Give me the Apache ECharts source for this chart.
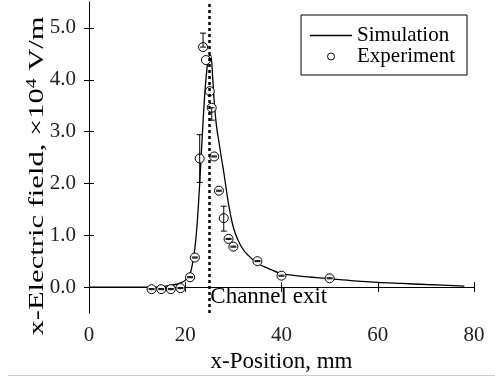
<!DOCTYPE html>
<html>
<head>
<meta charset="utf-8">
<script src="https://cdn.jsdelivr.net/npm/echarts@6/dist/echarts.min.js"></script>
<style>html,body{margin:0;padding:0;background:#fff}#c{width:495px;height:380px}</style>
</head>
<body>
<div id="c"></div>
<script>
// Simulation curve
var simX = [0, 5, 10, 14, 16, 18, 19, 20, 21, 21.5, 22, 22.5, 23, 23.5, 24, 24.5, 25, 25.3, 25.7, 26, 26.5, 27, 27.5, 28, 29, 30, 31, 32, 33, 35, 38, 40, 45, 50, 55, 60, 65, 70, 78];
var simY = [0.0, 0.0, 0.0, 0.0, 0.02, 0.05, 0.08, 0.13, 0.26, 0.45, 0.75, 1.25, 2.0, 2.85, 3.65, 4.2, 4.47, 4.47, 4.05, 3.6, 3.1, 2.8, 2.5, 2.22, 1.6, 1.15, 0.9, 0.73, 0.62, 0.46, 0.33, 0.26, 0.2, 0.16, 0.12, 0.09, 0.07, 0.05, 0.02];
// Experiment points
var expX = [13, 15, 17, 19, 21, 22, 23, 23.7, 24.3, 25.1, 25.5, 26, 27, 28, 29, 30, 35, 40, 50];
var expY = [-0.04, -0.04, -0.04, -0.02, 0.19, 0.57, 2.48, 4.63, 4.38, 3.78, 3.46, 2.52, 1.86, 1.33, 0.93, 0.78, 0.5, 0.22, 0.17];
var errLo = [0.01, 0.01, 0.01, 0.01, 0.01, 0.01, 0.46, 0.0, 0.0, 0.0, 0.0, 0.01, 0.01, 0.25, 0.01, 0.01, 0.01, 0.01, 0.01];
var errHi = [0.01, 0.01, 0.01, 0.01, 0.01, 0.01, 0.46, 0.27, 0.0, 0.0, 0.0, 0.01, 0.01, 0.23, 0.01, 0.01, 0.01, 0.01, 0.01];
var errLo2 = [0, 0, 0, 0, 0, 0, 0, 0, 0, 0, 0.24, 0, 0, 0, 0, 0, 0, 0, 0];
// Axis ticks
var xTicks = [0, 20, 40, 60, 80];
var yTicks = [0, 1, 2, 3, 4, 5];
var channelExit = 25;

var F = "'Liberation Serif', 'Times New Roman', serif";
var simData = simX.map(function (x, i) { return [x, simY[i]]; });
var expData = expX.map(function (x, i) { return [x, expY[i]]; });
var errData = [];
expX.forEach(function (x, i) {
  if (errLo[i] > 0 || errHi[i] > 0) errData.push([x, expY[i] - errLo[i], expY[i] + errHi[i]]);
  if (errLo2[i] > 0) errData.push([x, expY[i] - errLo2[i], expY[i]]);
});

var chart = echarts.init(document.getElementById('c'), null, {renderer: 'canvas'});
var axisLine = {show: true, lineStyle: {color: '#000', width: 1}};
var tick = {show: true, inside: true, length: 5, lineStyle: {color: '#000', width: 1}};
chart.setOption({
  backgroundColor: '#fff',
  animation: false,
  grid: {left: 89, right: 21, top: 2, bottom: 67},
  legend: {
    orient: 'vertical', right: 28, top: 15,
    data: [
      {name: 'Simulation', icon: 'path://M0,0 L42,0 L42,1.3 L0,1.3 Z'},
      {name: 'Experiment', icon: 'circle', itemStyle: {color: '#fff', borderColor: '#000', borderWidth: 1}}
    ],
    symbolKeepAspect: true,
    borderColor: '#000', borderWidth: 1, borderRadius: 0,
    padding: [10, 12, 8, 9],
    itemWidth: 42, itemHeight: 7, itemGap: 0,
    textStyle: {fontSize: 21, fontFamily: F, color: '#000'}
  },
  xAxis: [{
    type: 'value', min: 0, max: 80, interval: 20, position: 'bottom',
    axisLine: axisLine, axisTick: tick, splitLine: {show: false},
    axisLabel: {fontSize: 21, fontFamily: F, color: '#222', margin: 12,
      customValues: xTicks},
    name: 'x-Position, mm', nameLocation: 'middle', nameGap: 21,
    nameTextStyle: {fontSize: 23, fontFamily: F, color: '#000'}
  }, {
    type: 'value', min: 0, max: 80, interval: 20, position: 'top',
    axisLine: axisLine, axisTick: tick, splitLine: {show: false},
    axisLabel: {show: false}
  }],
  yAxis: [{
    type: 'value', min: -0.5, max: 5.5, position: 'left',
    axisLine: axisLine, splitLine: {show: false},
    axisTick: {show: true, inside: true, length: 5, lineStyle: {color: '#000'}, customValues: yTicks},
    axisLabel: {fontSize: 21, fontFamily: F, color: '#222', margin: 13, customValues: yTicks,
      formatter: function (v) { return v.toFixed(1); }}
  }, {
    type: 'value', min: -0.5, max: 5.5, position: 'right',
    axisLine: axisLine, splitLine: {show: false},
    axisTick: {show: true, inside: true, length: 5, lineStyle: {color: '#000'}, customValues: yTicks},
    axisLabel: {show: false}
  }],
  series: [{
    name: 'Simulation', type: 'line', data: simData, smooth: 0.3,
    symbol: 'none', showSymbol: false,
    lineStyle: {color: '#000', width: 1.3}, itemStyle: {color: '#000'}, z: 2,
    markLine: {
      silent: true, symbol: ['none', 'none'],
      lineStyle: {color: '#000', type: [3, 3], width: 2.5},
      label: {show: false},
      data: [{xAxis: channelExit}]
    },
    markPoint: {
      symbol: 'circle', symbolSize: 0,
      label: {show: true, position: 'right', distance: 1, formatter: 'Channel exit',
        fontSize: 23, fontFamily: F, color: '#000'},
      data: [{coord: [channelExit, -0.2]}]
    }
  }, {
    name: 'Experiment', type: 'scatter', data: expData, z: 4,
    symbol: 'circle', symbolSize: 9,
    itemStyle: {color: '#fff', borderColor: '#000', borderWidth: 1, opacity: 1}
  }, {
    name: 'errorbars', type: 'custom', data: errData, z: 5,
    renderItem: function (params, api) {
      var x = api.value(0);
      var lo = api.coord([x, api.value(1)]);
      var hi = api.coord([x, api.value(2)]);
      var w = 3;
      var st = {stroke: '#000', lineWidth: 1};
      return {type: 'group', children: [
        {type: 'line', shape: {x1: lo[0], y1: lo[1], x2: hi[0], y2: hi[1]}, style: st},
        {type: 'line', shape: {x1: lo[0] - w, y1: lo[1], x2: lo[0] + w, y2: lo[1]}, style: st},
        {type: 'line', shape: {x1: hi[0] - w, y1: hi[1], x2: hi[0] + w, y2: hi[1]}, style: st}
      ]};
    }
  }],
  graphic: [{
    type: 'text', x: 37, y: 176, rotation: Math.PI / 2, scaleX: 1.39,
    style: {
      text: 'x-Electric field, ×10{sup|4} V/m',
      fontSize: 22, fontFamily: F, fill: '#000',
      align: 'center', verticalAlign: 'middle',
      rich: {sup: {fontSize: 14, fontFamily: F, fill: '#000', verticalAlign: 'top', padding: [0, 0, 9, 0]}}
    }
  }, {
    type: 'line', shape: {x1: 8, y1: 375.5, x2: 495, y2: 375.5},
    style: {stroke: '#cfcfcf', lineWidth: 1}
  }]
});
</script>
</body>
</html>
